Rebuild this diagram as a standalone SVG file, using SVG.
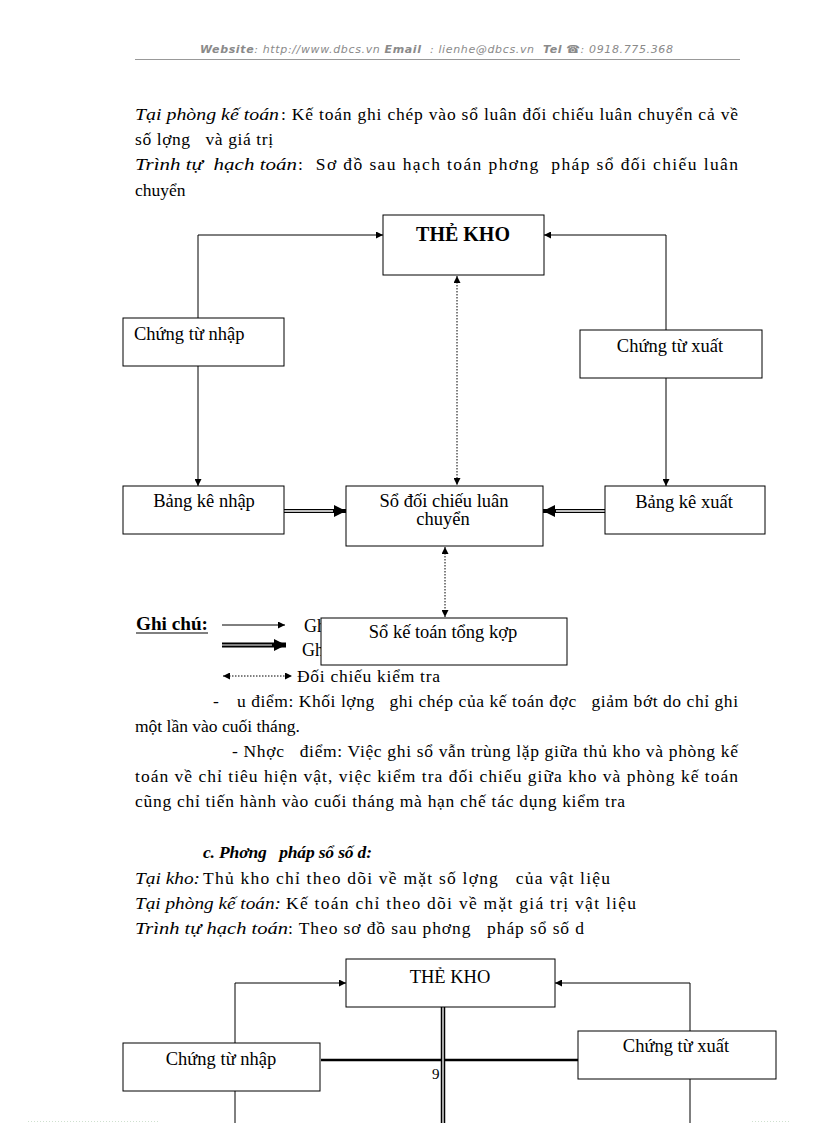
<svg xmlns="http://www.w3.org/2000/svg" width="816" height="1123" viewBox="0 0 816 1123">
<style>
.t{font-family:"Liberation Serif","Times New Roman",serif;font-size:17.5px;fill:#000;white-space:pre}
.i{font-style:italic}
.b{font-weight:bold}
.hd{font-family:"DejaVu Sans",Verdana,sans-serif;font-size:11px;font-style:italic;fill:#8a8a8a;white-space:pre}
.box{fill:#fff;stroke:#000;stroke-width:1}
.ln{fill:none;stroke:#000;stroke-width:1}
.dot{fill:none;stroke:#000;stroke-width:1;stroke-dasharray:1.5 1.5}
.dbl{fill:none;stroke:#000;stroke-width:4}
.dbw{fill:none;stroke:#fff;stroke-width:1.4}
.nt{font-family:"Liberation Serif","Times New Roman",serif;font-size:18.5px;fill:#000;text-anchor:middle}
</style>
<defs>
<marker id="ah" viewBox="0 0 10 10" refX="10" refY="5" markerWidth="7" markerHeight="7" markerUnits="userSpaceOnUse" orient="auto-start-reverse"><path d="M0,0 L10,5 L0,10 z" fill="#000"/></marker>
<marker id="big" viewBox="0 0 10 10" refX="10" refY="5" markerWidth="14" markerHeight="12" markerUnits="userSpaceOnUse" orient="auto"><path d="M0,0 L10,5 L0,10 z" fill="#000"/></marker>
</defs>
<rect width="816" height="1123" fill="#fff"/>

<!-- header -->
<text class="hd" x="200" y="53" textLength="473" lengthAdjust="spacing"><tspan font-weight="bold">Website</tspan>: http://www.dbcs.vn <tspan font-weight="bold">Email</tspan>  : lienhe@dbcs.vn  <tspan font-weight="bold">Tel</tspan> ☎: 0918.775.368</text>
<line x1="135" y1="59.5" x2="740" y2="59.5" stroke="#999" stroke-width="1"/>

<!-- paragraph 1 -->
<text class="t i" x="135" y="120" textLength="144" lengthAdjust="spacingAndGlyphs">Tại phòng kế toán</text>
<text class="t" x="281" y="120" textLength="457" lengthAdjust="spacing">: Kế toán ghi chép vào sổ luân đối chiếu luân chuyển cả về</text>
<text class="t" x="135" y="145" textLength="138" lengthAdjust="spacing">số lợng   và giá trị</text>
<text class="t i" x="135" y="170" textLength="162" lengthAdjust="spacingAndGlyphs">Trình tự  hạch toán</text>
<text class="t" x="298" y="170" textLength="440" lengthAdjust="spacing">:  Sơ đồ sau hạch toán phơng  pháp sổ đối chiếu luân</text>
<text class="t" x="135" y="196">chuyển</text>

<!-- diagram 1 connectors -->
<g id="connectors1">
<path class="ln" d="M198,318 V235 H383" marker-end="url(#ah)"/>
<path class="ln" d="M666,330 V235 H544" marker-end="url(#ah)"/>
<path class="ln" d="M198,366 V486" marker-end="url(#ah)"/>
<path class="ln" d="M666,378 V486" marker-end="url(#ah)"/>
<path class="dot" d="M457,276 V485" marker-start="url(#ah)" marker-end="url(#ah)"/>
<path class="dot" d="M445,547 V617" marker-start="url(#ah)" marker-end="url(#ah)"/>
<path class="dbl" d="M284,511 H346" marker-end="url(#big)"/>
<path class="dbw" d="M284,511 H333"/>
<path class="dbl" d="M605,511 H543" marker-end="url(#big)"/>
<path class="dbw" d="M605,511 H556"/>
</g>

<g id="the-kho-1"><rect class="box" x="383" y="215" width="161" height="60"/><text class="nt b" x="463" y="241" style="font-size:20px">THẺ KHO</text></g>
<g id="chung-tu-nhap-1"><rect class="box" x="123" y="318" width="161" height="48"/><text class="t" x="134" y="340" style="font-size:18.5px">Chứng từ nhập</text></g>
<g id="chung-tu-xuat-1"><rect class="box" x="580" y="330" width="182" height="48"/><text class="nt" x="670" y="352">Chứng từ xuất</text></g>
<g id="bang-ke-nhap"><rect class="box" x="123" y="486" width="161" height="48"/><text class="nt" x="204" y="507">Bảng kê nhập</text></g>
<g id="so-doi-chieu"><rect class="box" x="346" y="486" width="197" height="60"/><text class="nt" x="444" y="507">Sổ đối chiếu luân</text><text class="nt" x="443" y="525">chuyển</text></g>
<g id="bang-ke-xuat"><rect class="box" x="605" y="486" width="160" height="48"/><text class="nt" x="684" y="508">Bảng kê xuất</text></g>

<!-- legend -->
<g id="legend">
<text class="t b" x="136" y="630" style="font-size:18px" textLength="72" lengthAdjust="spacingAndGlyphs">Ghi chú:</text>
<line x1="136" y1="633" x2="208" y2="633" stroke="#000" stroke-width="1"/>
<path class="ln" d="M222,625 H285" marker-end="url(#ah)"/>
<path d="M222,645 H286" fill="none" stroke="#000" stroke-width="5" marker-end="url(#big)"/>
<path d="M222,645 H272" fill="none" stroke="#fff" stroke-width="1"/>
<path class="dot" d="M223,676 H292" marker-start="url(#ah)" marker-end="url(#ah)"/>
<text class="t" x="304" y="632" style="font-size:18px">Gh</text>
<text class="t" x="302" y="656" style="font-size:18px">Gh</text>
<text class="t" x="297" y="682" textLength="143" lengthAdjust="spacing">Đối chiếu kiểm tra</text>
</g>
<g id="so-ke-toan-tong-hop"><rect class="box" x="321" y="618" width="246" height="47"/><text class="nt" x="443" y="638">Sổ kế toán tổng kợp</text></g>

<!-- paragraph 2 -->
<text class="t" x="213" y="707">-</text>
<text class="t" x="237" y="707" textLength="501" lengthAdjust="spacing">u điểm: Khối lợng   ghi chép của kế toán đợc   giảm bớt do chỉ ghi</text>
<text class="t" x="135" y="732">một lần vào cuối tháng.</text>
<text class="t" x="232" y="757" textLength="506" lengthAdjust="spacing">- Nhợc   điểm: Việc ghi sổ vẫn trùng lặp giữa thủ kho và phòng kế</text>
<text class="t" x="135" y="782" textLength="603" lengthAdjust="spacing">toán về chỉ tiêu hiện vật, việc kiểm tra đối chiếu giữa kho và phòng kế toán</text>
<text class="t" x="135" y="807" textLength="490" lengthAdjust="spacing">cũng chỉ tiến hành vào cuối tháng mà hạn chế tác dụng kiểm tra</text>

<text class="t b i" x="203" y="858" textLength="169" lengthAdjust="spacing">c. Phơng   pháp sổ số d:</text>
<text class="t i" x="135" y="884" textLength="65" lengthAdjust="spacingAndGlyphs">Tại kho:</text>
<text class="t" x="203" y="884" textLength="407" lengthAdjust="spacing">Thủ kho chỉ theo dõi về mặt số lợng   của vật liệu</text>
<text class="t i" x="135" y="909" textLength="146" lengthAdjust="spacingAndGlyphs">Tại phòng kế toán:</text>
<text class="t" x="286" y="909" textLength="350" lengthAdjust="spacing">Kế toán chỉ theo dõi về mặt giá trị vật liệu</text>
<text class="t i" x="135" y="934" textLength="153" lengthAdjust="spacingAndGlyphs">Trình tự hạch toán</text>
<text class="t" x="288" y="934" textLength="296" lengthAdjust="spacing">: Theo sơ đồ sau phơng   pháp sổ số d</text>

<!-- diagram 2 -->
<g id="connectors2">
<path class="ln" d="M235,1043 V983 H346" marker-end="url(#ah)"/>
<path class="ln" d="M690,1031 V983 H555" marker-end="url(#ah)"/>
<path class="ln" d="M235,1091 V1123"/>
<path class="ln" d="M690,1079 V1123"/>
<line x1="321" y1="1060" x2="580" y2="1060" stroke="#000" stroke-width="2.5"/>
<line x1="443" y1="1006" x2="443" y2="1123" stroke="#000" stroke-width="4.5"/>
<line x1="443" y1="1006" x2="443" y2="1123" stroke="#fff" stroke-width="1.3"/>
</g>
<g id="the-kho-2"><rect class="box" x="346" y="959" width="209" height="48"/><text class="nt" x="450" y="983">THẺ KHO</text></g>
<g id="chung-tu-nhap-2"><rect class="box" x="123" y="1043" width="197" height="48"/><text class="nt" x="221" y="1065">Chứng từ nhập</text></g>
<g id="chung-tu-xuat-2"><rect class="box" x="578" y="1031" width="198" height="48"/><text class="nt" x="676" y="1052">Chứng từ xuất</text></g>
<text class="t" x="432" y="1079" style="font-size:15px">9</text>
<line x1="28" y1="1121.5" x2="160" y2="1121.5" stroke="#cfe0cf" stroke-width="1" stroke-dasharray="1 2"/>
<line x1="752" y1="1121.5" x2="790" y2="1121.5" stroke="#cfe0cf" stroke-width="1" stroke-dasharray="1 2"/>
</svg>
